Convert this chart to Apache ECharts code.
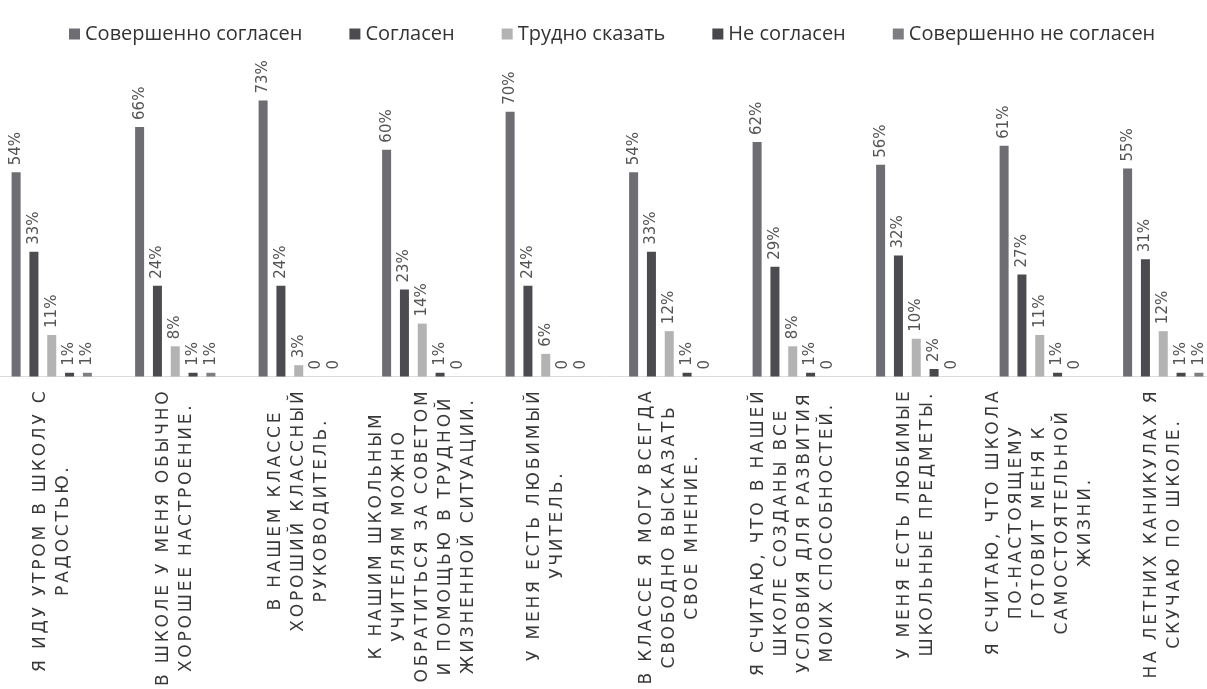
<!DOCTYPE html>
<html>
<head>
<meta charset="utf-8">
<script src="https://cdn.jsdelivr.net/npm/echarts@6/dist/echarts.min.js"></script>
<style>
html,body{margin:0;padding:0;background:#fff;overflow:hidden;width:1207px;height:689px;position:relative;}
#chart{width:1235px;height:689px;position:absolute;left:-10px;top:0;}
</style>
</head>
<body>
<div id="chart"></div>
<script>
var categories = [
  "Я ИДУ УТРОМ В ШКОЛУ С\nРАДОСТЬЮ.",
  "В ШКОЛЕ У МЕНЯ ОБЫЧНО\nХОРОШЕЕ НАСТРОЕНИЕ.",
  "В НАШЕМ КЛАССЕ\nХОРОШИЙ КЛАССНЫЙ\nРУКОВОДИТЕЛЬ.",
  "К НАШИМ ШКОЛЬНЫМ\nУЧИТЕЛЯМ МОЖНО\nОБРАТИТЬСЯ ЗА СОВЕТОМ\nИ ПОМОЩЬЮ В ТРУДНОЙ\nЖИЗНЕННОЙ СИТУАЦИИ.",
  "У МЕНЯ ЕСТЬ ЛЮБИМЫЙ\nУЧИТЕЛЬ.",
  "В КЛАССЕ Я МОГУ ВСЕГДА\nСВОБОДНО ВЫСКАЗАТЬ\nСВОЕ МНЕНИЕ.",
  "Я СЧИТАЮ, ЧТО В НАШЕЙ\nШКОЛЕ СОЗДАНЫ ВСЕ\nУСЛОВИЯ ДЛЯ РАЗВИТИЯ\nМОИХ СПОСОБНОСТЕЙ.",
  "У МЕНЯ ЕСТЬ ЛЮБИМЫЕ\nШКОЛЬНЫЕ ПРЕДМЕТЫ.",
  "Я СЧИТАЮ, ЧТО ШКОЛА\nПО-НАСТОЯЩЕМУ\nГОТОВИТ МЕНЯ К\nСАМОСТОЯТЕЛЬНОЙ\nЖИЗНИ.",
  "НА ЛЕТНИХ КАНИКУЛАХ Я\nСКУЧАЮ ПО ШКОЛЕ."
];
var seriesNames = ["Совершенно согласен", "Согласен", "Трудно сказать", "Не согласен", "Совершенно не согласен"];
var fullyAgree    = [54, 66, 73, 60, 70, 54, 62, 56, 61, 55];
var agree         = [33, 24, 24, 23, 24, 33, 29, 32, 27, 31];
var hardToSay     = [11, 8, 3, 14, 6, 12, 8, 10, 11, 12];
var disagree      = [1, 1, 0, 1, 0, 1, 1, 2, 1, 1];
var fullyDisagree = [1, 1, 0, 0, 0, 0, 0, 0, 0, 1];

var seriesData = [fullyAgree, agree, hardToSay, disagree, fullyDisagree];
var colors = ["#6d6d73", "#4b4b50", "#b3b3b3", "#47474c", "#7e7e82"];

// wide letter spacing for the category captions (17px font only)
(function () {
  var proto = window.CanvasRenderingContext2D && CanvasRenderingContext2D.prototype;
  if (!proto || !('letterSpacing' in proto)) return;
  var desc = Object.getOwnPropertyDescriptor(proto, 'font');
  if (!desc || !desc.set) return;
  Object.defineProperty(proto, 'font', {
    configurable: true,
    get: function () { return desc.get.call(this); },
    set: function (v) {
      desc.set.call(this, v);
      this.letterSpacing = /(^|\s)17px(\s|$)/.test(v) ? '2.8px' : '0px';
    }
  });
})();

var chart = echarts.init(document.getElementById('chart'));
var series = seriesData.map(function (d, i) {
  return {
    name: seriesNames[i],
    type: 'bar',
    data: d,
    barWidth: 9,
    barGap: '98%',
    itemStyle: { color: colors[i] },
    label: {
      show: true,
      position: 'top',
      rotate: 90,
      align: 'left',
      verticalAlign: 'middle',
      distance: 5,
      offset: [2, 0],
      fontFamily: 'DejaVu Sans',
      fontSize: 15,
      color: '#555',
      formatter: function (p) { return p.value === 0 ? '0' : p.value + '%'; }
    }
  };
});

chart.setOption({
  animation: false,
  backgroundColor: '#fff',
  legend: {
    top: 19,
    left: 74,
    itemWidth: 11,
    itemHeight: 11,
    itemGap: 47,
    icon: 'rect',
    textStyle: { fontFamily: 'Open Sans', fontSize: 20, color: '#333' },
    data: seriesNames
  },
  grid: { left: 0, right: 0, top: 74, bottom: 309, containLabel: false },
  xAxis: {
    type: 'category',
    data: categories,
    axisTick: { show: false },
    axisLine: { show: true, lineStyle: { color: '#dcdcdc', width: 1 } },
    axisLabel: {
      interval: 0,
      rotate: 90,
      margin: 12,
      formatter: function (v) {
        return v.split('\n').map(function (s) { return '{c|' + s + '}'; }).join('\n');
      },
      rich: {
        c: { align: 'center', fontFamily: 'DejaVu Sans', fontSize: 17, lineHeight: 23, color: '#383838' }
      }
    }
  },
  yAxis: { type: 'value', min: 0, max: 80, show: false, splitLine: { show: false } },
  series: series
});
</script>
</body>
</html>
